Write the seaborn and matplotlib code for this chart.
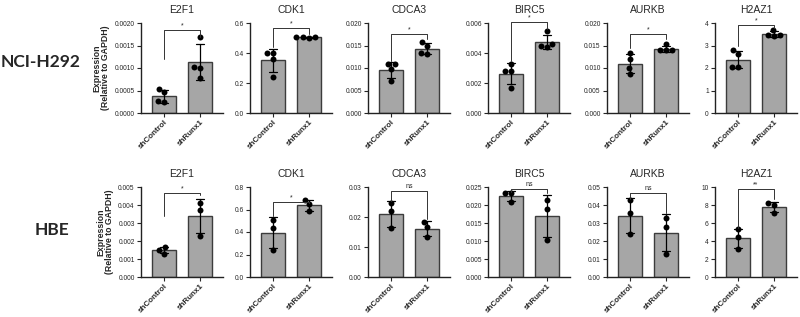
import numpy as np
import pandas as pd
import matplotlib
matplotlib.use("Agg")
import matplotlib.pyplot as plt
import seaborn as sns
from matplotlib.ticker import MultipleLocator, FormatStrFormatter

# ---------------- data ----------------
groups = ["shControl", "shRunx1"]
genes = ["E2F1", "CDK1", "CDCA3", "BIRC5", "AURKB", "H2AZ1"]
cell_lines = ["NCI-H292", "HBE"]

# NCI-H292 (n = 4)
h292_control = {
    "E2F1": [0.00053, 0.00047, 0.00026, 0.00024],
    "CDK1": [0.40, 0.40, 0.36, 0.24],
    "CDCA3": [0.0108, 0.0108, 0.0097, 0.0071],
    "BIRC5": [0.00325, 0.0028, 0.0028, 0.00168],
    "AURKB": [0.0133, 0.0119, 0.0100, 0.0087],
    "H2AZ1": [2.79, 2.64, 2.04, 2.04],
}
h292_runx1 = {
    "E2F1": [0.00170, 0.00103, 0.00101, 0.00078],
    "CDK1": [0.500, 0.505, 0.505, 0.510],
    "CDCA3": [0.0158, 0.0150, 0.0133, 0.0132],
    "BIRC5": [0.00544, 0.00448, 0.00440, 0.00459],
    "AURKB": [0.0153, 0.0139, 0.0139, 0.0139],
    "H2AZ1": [3.70, 3.48, 3.45, 3.44],
}
# HBE (n = 3)
hbe_control = {
    "E2F1": [0.00167, 0.00152, 0.00130],
    "CDK1": [0.503, 0.437, 0.238],
    "CDCA3": [0.0248, 0.0220, 0.0164],
    "BIRC5": [0.0232, 0.0232, 0.0209],
    "AURKB": [0.0428, 0.0357, 0.0240],
    "H2AZ1": [5.28, 4.46, 3.12],
}
hbe_runx1 = {
    "E2F1": [0.00411, 0.00374, 0.00230],
    "CDK1": [0.684, 0.645, 0.586],
    "CDCA3": [0.0183, 0.0166, 0.0134],
    "BIRC5": [0.0213, 0.0190, 0.0102],
    "AURKB": [0.0329, 0.0277, 0.0130],
    "H2AZ1": [8.25, 7.96, 7.14],
}

# axis ranges / tick steps / tick formats per panel
h292_ymax = [0.002, 0.6, 0.02, 0.006, 0.02, 4]
h292_step = [0.0005, 0.2, 0.005, 0.002, 0.005, 1]
h292_fmt = ["%.4f", "%.1f", "%.3f", "%.3f", "%.3f", "%d"]
hbe_ymax = [0.005, 0.8, 0.03, 0.025, 0.05, 10]
hbe_step = [0.001, 0.2, 0.01, 0.005, 0.01, 2]
hbe_fmt = ["%.3f", "%.1f", "%.2f", "%.3f", "%.2f", "%d"]

# significance annotations: label, bracket level, left leg end, right leg end
h292_sig = ["*", "*", "*", "*", "*", "*"]
h292_bracket = [0.00185, 0.567, 0.0175, 0.0061, 0.0176, 3.93]
h292_leg_ctrl = [0.0012, 0.44, 0.0116, 0.0035, 0.0144, 2.96]
h292_leg_runx = [0.0017, 0.53, 0.0165, 0.0056, 0.0164, 3.78]
hbe_sig = ["*", "*", "ns", "ns", "ns", "**"]
hbe_bracket = [0.00465, 0.666, 0.0287, 0.0245, 0.0468, 9.74]
hbe_leg_ctrl = [0.00338, 0.541, 0.0255, 0.0235, 0.0435, 5.46]
hbe_leg_runx = [0.00454, 0.655, 0.0192, 0.0234, 0.0357, 8.7]

rows = [
    (h292_control, h292_runx1, h292_ymax, h292_step, h292_fmt,
     h292_sig, h292_bracket, h292_leg_ctrl, h292_leg_runx),
    (hbe_control, hbe_runx1, hbe_ymax, hbe_step, hbe_fmt,
     hbe_sig, hbe_bracket, hbe_leg_ctrl, hbe_leg_runx),
]

# ---------------- figure ----------------
sns.set_style("ticks")
plt.rcParams["font.family"] = ["Liberation Sans", "DejaVu Sans"]

W, H = 800, 317
fig = plt.figure(figsize=(W / 100, H / 100), dpi=100)

col_left_px = [141, 250, 368, 488, 607, 715]
ax_w_px = 82
row_top_px = [23, 187]
ax_h_px = 90

bar_color = "#a6a6a6"
edge_color = "#3c3c3c"

for r, (ctrl, runx, ymax, step, fmt, sig, brk, lc, lr) in enumerate(rows):
    for c, gene in enumerate(genes):
        left = col_left_px[c] / W
        bottom = 1 - (row_top_px[r] + ax_h_px) / H
        ax = fig.add_axes([left, bottom, ax_w_px / W, ax_h_px / H])

        df = pd.DataFrame({
            "group": [groups[0]] * len(ctrl[gene]) + [groups[1]] * len(runx[gene]),
            "value": list(ctrl[gene]) + list(runx[gene]),
        })
        sns.barplot(data=df, x="group", y="value", order=groups,
                    errorbar="sd", color=bar_color, edgecolor=edge_color,
                    linewidth=1.0, width=0.67, capsize=0.22,
                    err_kws={"color": "black", "linewidth": 0.9},
                    saturation=1, ax=ax)
        sns.swarmplot(data=df, x="group", y="value", order=groups,
                      color="black", size=4.3, ax=ax, zorder=4)

        ax.set_xlim(-0.65, 1.65)
        ax.set_ylim(0, ymax[c])
        ax.yaxis.set_major_locator(MultipleLocator(step[c]))
        ax.yaxis.set_major_formatter(FormatStrFormatter(fmt[c]))
        ax.set_xlabel("")
        ax.set_ylabel("")
        sns.despine(ax=ax)
        for sp in ("left", "bottom"):
            ax.spines[sp].set_linewidth(1.0)
            ax.spines[sp].set_color("#222222")
        ax.tick_params(axis="y", labelsize=4.8, length=3, width=0.8, pad=1.5)
        ax.tick_params(axis="x", labelsize=5.8, length=3, width=0.8, pad=1.0)
        ax.set_xticks([0, 1])
        ax.set_xticklabels(groups, rotation=45, ha="right",
                           rotation_mode="anchor", fontweight="bold")
        ax.set_title(gene, fontsize=7.5, pad=7.5)

        # significance bracket
        ax.plot([0, 0, 1, 1], [lc[c], brk[c], brk[c], lr[c]],
                color="#333333", linewidth=0.7, clip_on=False, zorder=5)
        ax.text(0.5, brk[c] + ymax[c] * 0.005, sig[c], ha="center",
                va="bottom", fontsize=5.0, clip_on=False)

        if c == 0:
            ax.set_ylabel("Expression\n(Relative to GAPDH)", fontsize=6.3,
                          fontweight="bold", labelpad=3, linespacing=1.0)

# row labels
fig.text(1 / W, 1 - 62 / H, cell_lines[0], fontsize=12.5, fontweight="bold",
         family=["Lato", "DejaVu Sans"], ha="left", va="center")
fig.text(52 / W, 1 - 230 / H, cell_lines[1], fontsize=12.5, fontweight="bold",
         family=["Lato", "DejaVu Sans"], ha="center", va="center")

fig.savefig("out.png", dpi=100, facecolor="white")
